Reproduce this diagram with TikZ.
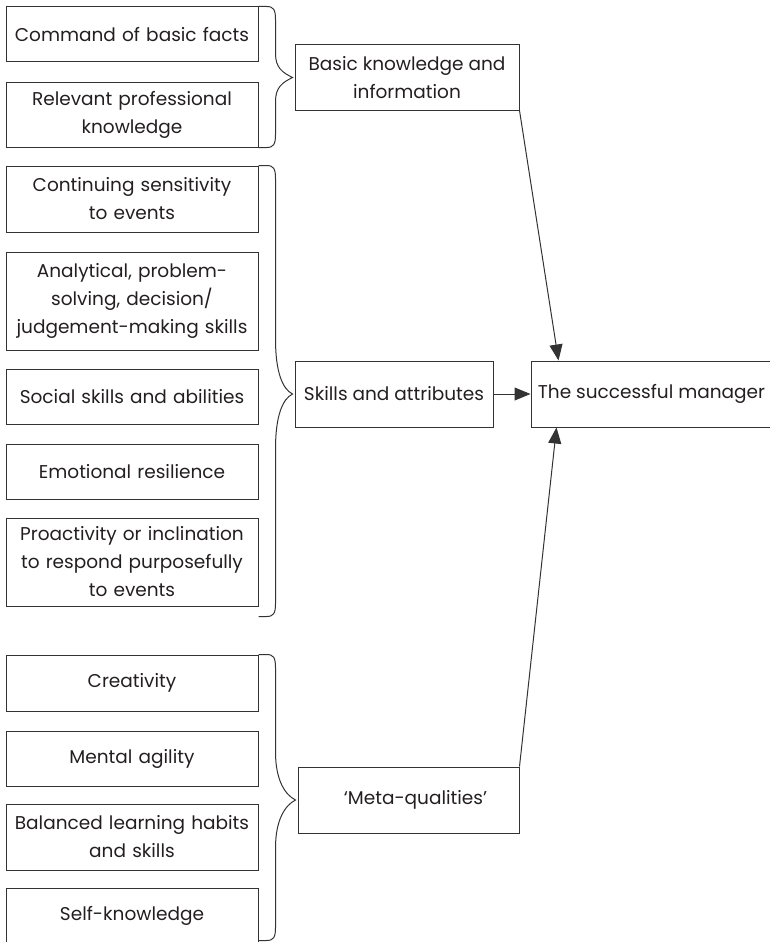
\documentclass[tikz,border=0pt]{standalone}
\usepackage{fontspec}
\setmainfont{Poppins}
\usetikzlibrary{arrows.meta,calc}

\definecolor{ink}{HTML}{231F20}
\definecolor{rule}{HTML}{333333}

% Curly bracket gathering a column of boxes and pointing at a target box.
% #1 top anchor, #2 bottom anchor, #3 target node, #4 length of the curve into the tip
\newcommand{\groupbrace}[4]{%
  \draw[brace] let \p1=(#1), \p2=(#2), \p3=(#3.west) in
    (\p1) -- (\x1+8pt,\y1)
      .. controls (\x1+15pt,\y1) and (\x1+17pt,\y1-3pt) .. (\x1+17pt,\y1-13pt)
      -- (\x1+17pt,\y3+#4)
      .. controls (\x1+17pt,\y3+0.4*#4) and (\x3-12pt,\y3+5pt) .. (\x3-2pt,\y3)
      .. controls (\x3-12pt,\y3-5pt) and (\x1+17pt,\y3-0.4*#4) .. (\x1+17pt,\y3-#4)
      -- (\x1+17pt,\y2+13pt)
      .. controls (\x1+17pt,\y2+3pt) and (\x1+15pt,\y2) .. (\x1+8pt,\y2)
      -- (\x1,\y2);}

\begin{document}
\begin{tikzpicture}[x=1pt,y=1pt,
  every node/.style={font=\fontsize{18.5}{28}\selectfont, text=ink},
  box/.style={draw=rule, line width=1pt, inner sep=0pt, align=center},
  item/.style={box, minimum width=252pt, text width=248pt},
  brace/.style={draw=rule, line width=1pt},
  link/.style={draw=rule, line width=1pt, -{Triangle[length=16pt,width=13pt]}}]

\useasboundingbox (0,0) rectangle (770,-942);

% left column: basic knowledge
\node[item, minimum height=55pt] (cmd) at (132,-34.5) {Command of basic facts};
\node[item, minimum height=65pt] (rel) at (132,-114.5) {Relevant professional\\knowledge};

% left column: skills
\node[item, minimum height=66pt] (cont) at (132,-199) {Continuing sensitivity\\to events};
\node[item, minimum height=98pt] (anal) at (132,-301) {Analytical, problem-\\solving, decision/\\judgement-making skills};
\node[item, minimum height=55pt] (soc) at (132,-396.5) {Social skills and abilities};
\node[item, minimum height=55pt] (emo) at (132,-471.5) {Emotional resilience};
\node[item, minimum height=88pt] (pro) at (132,-562) {Proactivity or inclination\\to respond purposefully\\to events};

% left column: meta-qualities
\node[item, minimum height=56pt] (cre) at (132,-683) {Creativity};
\node[item, minimum height=55pt] (ment) at (132,-758.5) {Mental agility};
\node[item, minimum height=66pt] (bal) at (132,-837) {Balanced learning habits\\and skills};
\node[item, minimum height=56pt] (self) at (132,-916) {Self-knowledge};

% middle column
\node[box, minimum width=224pt, minimum height=65pt] (basic) at (407,-77.5) {Basic knowledge and\\information};
\node[box, minimum width=198pt, minimum height=66pt] (skills) at (394,-394) {Skills and attributes};
\node[box, minimum width=221pt, minimum height=66pt] (meta) at (408.5,-800) {\hspace*{14pt}‘Meta-qualities’};

% result
\node[box, minimum width=241pt, minimum height=66pt] (mgr) at (651.5,-394) {The successful manager};
\coordinate (mgrTop) at ($(mgr.north west)+(28,0)$);
\coordinate (mgrBot) at ($(mgr.south west)+(26,0)$);

% brackets
\groupbrace{cmd.north east}{rel.south east}{basic}{24pt}
\groupbrace{cont.north east}{$(pro.south east)+(0,-10)$}{skills}{55pt}
\groupbrace{cre.north east}{$(self.north east)+(0,-53)$}{meta}{48pt}

% arrows into the manager box
\draw[link] (basic.south east) -- (mgrTop);
\draw[link] (skills.east) -- (mgr.west);
\draw[link] (meta.north east) -- (mgrBot);

\end{tikzpicture}
\end{document}
